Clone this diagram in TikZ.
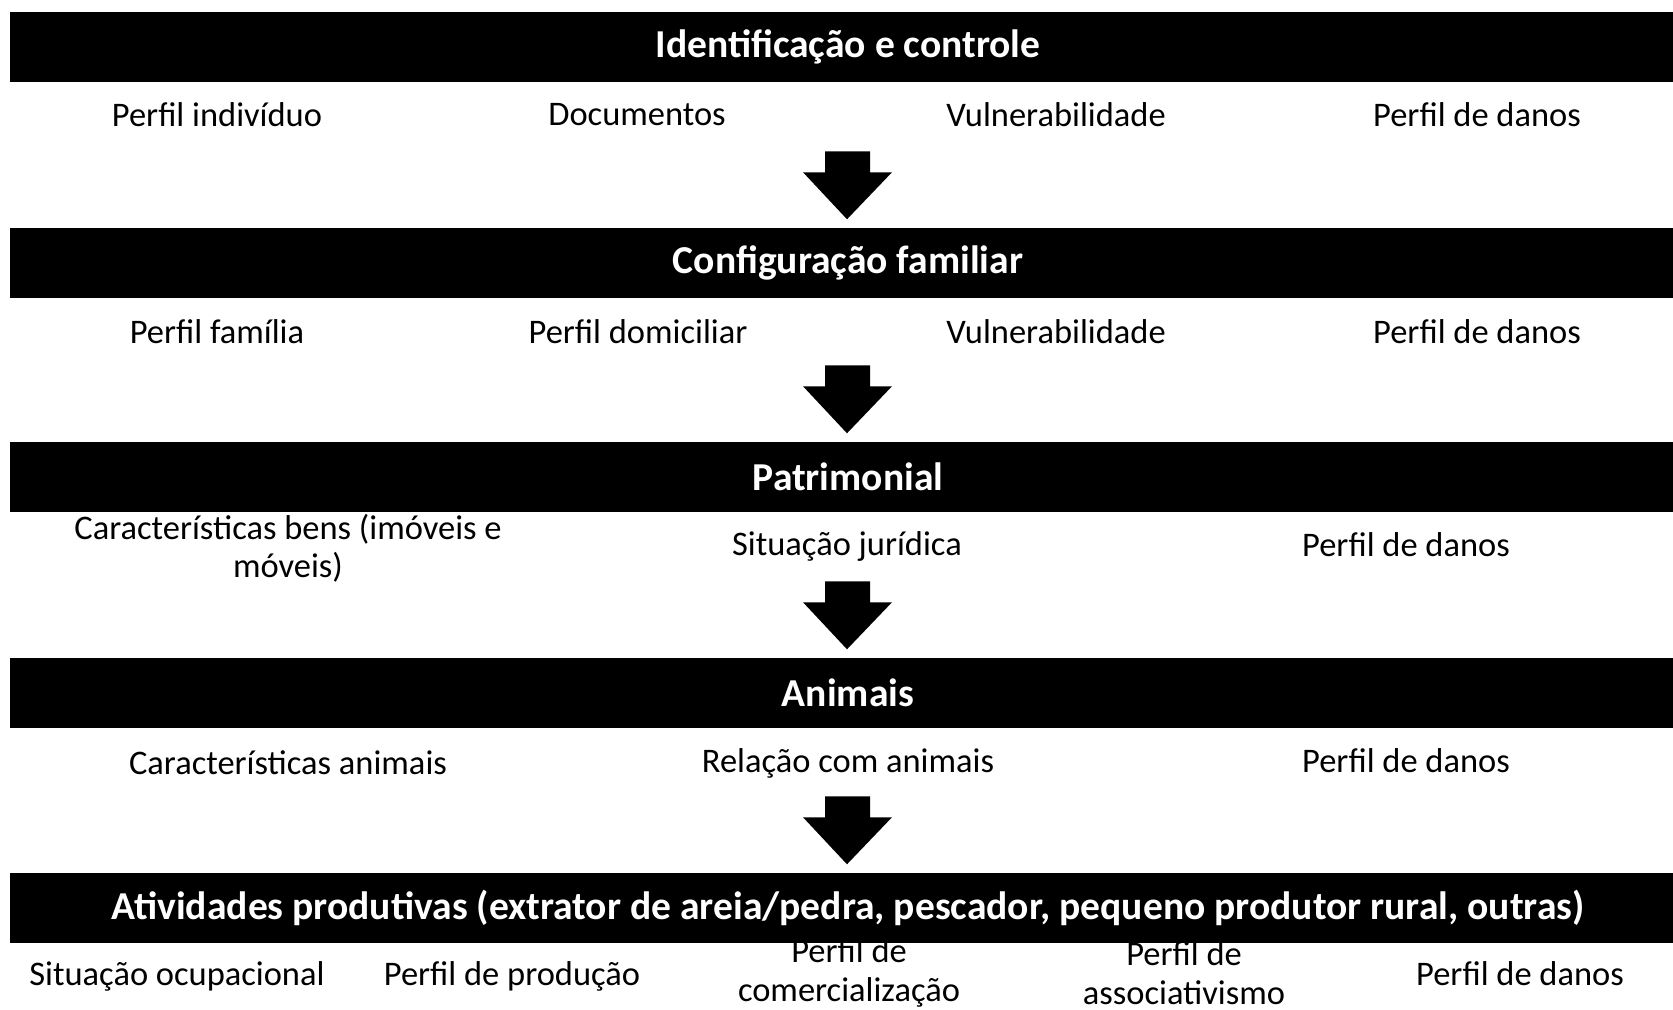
\documentclass[tikz,border=0pt]{standalone}
\usepackage{fontspec}
\setmainfont{Carlito}
\usetikzlibrary{calc}

\tikzset{
  bar/.style={fill=black, text=white, font=\fontsize{11.25}{12}\selectfont\bfseries,
    minimum width=16.76cm, minimum height=0.70cm, inner sep=0pt},
  item/.style={font=\fontsize{9.8}{10.9}\selectfont, align=center, inner sep=1pt},
  blockarrow/.style={fill=black}
}

\begin{document}
\begin{tikzpicture}[x=0.01cm, y=-0.01cm]
  \useasboundingbox (0,0) rectangle (1673,1010);

  % ---- bars ----
  \node[bar] (bIdent)  at (848,47)  {Identificação e controle};
  \node[bar] (bConfig) at (848,263) {Configuração familiar};
  \node[bar] (bPatr)   at (848,477) {Patrimonial};
  \node[bar] (bAnim)   at (848,693) {Animais};
  \node[bar] (bAtiv)   at (848,908) {Atividades produtivas (extrator de areia/pedra, pescador, pequeno produtor rural, outras)};

  % ---- arrows ----
  \fill[blockarrow] ($(bConfig.north)+(-1,-8)$) -- ++(-44,-47) -- ++(22,0) -- ++(0,-21)
    -- ++(45,0) -- ++(0,21) -- ++(22,0) -- cycle;
  \fill[blockarrow] ($(bPatr.north)+(-1,-8)$) -- ++(-44,-47) -- ++(22,0) -- ++(0,-21)
    -- ++(45,0) -- ++(0,21) -- ++(22,0) -- cycle;
  \fill[blockarrow] ($(bAnim.north)+(-1,-8)$) -- ++(-44,-47) -- ++(22,0) -- ++(0,-21)
    -- ++(45,0) -- ++(0,21) -- ++(22,0) -- cycle;
  \fill[blockarrow] ($(bAtiv.north)+(-1,-8)$) -- ++(-44,-47) -- ++(22,0) -- ++(0,-21)
    -- ++(45,0) -- ++(0,21) -- ++(22,0) -- cycle;

  % ---- identificacao ----
  \node[item] (iPerfil) at (217,115)  {Perfil indivíduo};
  \node[item] (iDocs)   at (637,115)  {Documentos};
  \node[item] (iVuln)   at (1056,115) {Vulnerabilidade};
  \node[item] (iDanos)  at (1477,115) {Perfil de danos};

  % ---- configuracao ----
  \node[item] (cFam)    at (217,332)  {Perfil família};
  \node[item] (cDomic)  at (638,332)  {Perfil domiciliar};
  \node[item] (cVuln)   at (1056,332) {Vulnerabilidade};
  \node[item] (cDanos)  at (1477,332) {Perfil de danos};

  % ---- patrimonial ----
  \node[item] (pBens)   at (288,548)  {Características bens (imóveis e\\móveis)};
  \node[item] (pJurid)  at (847,546)  {Situação jurídica};
  \node[item] (pDanos)  at (1406,545) {Perfil de danos};

  % ---- animais ----
  \node[item] (aCarac)  at (288,763)  {Características animais};
  \node[item] (aRel)    at (848,763)  {Relação com animais};
  \node[item] (aDanos)  at (1406,761) {Perfil de danos};

  % ---- atividades ----
  \node[item] (tOcup)   at (177,976)  {Situação ocupacional};
  \node[item] (tProd)   at (512,976)  {Perfil de produção};
  \node[item] (tComerc) at (849,973)  {Perfil de\\comercialização};
  \node[item] (tAssoc)  at (1184,973) {Perfil de\\associativismo};
  \node[item] (tDanos)  at (1520,974) {Perfil de danos};

\end{tikzpicture}
\end{document}
